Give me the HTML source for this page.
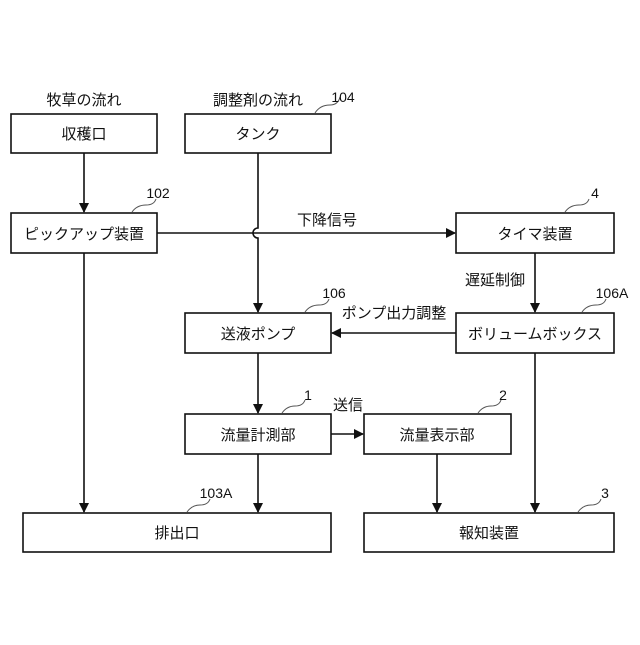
<!DOCTYPE html>
<html><head><meta charset="utf-8"><style>
html,body{margin:0;padding:0;background:#fff;}
svg text{font-family:"Liberation Sans","Noto Sans CJK JP",sans-serif;fill:#111;}
</style></head><body>
<svg width="640" height="640" viewBox="0 0 640 640" xmlns="http://www.w3.org/2000/svg">
<defs><marker id="a" markerWidth="10" markerHeight="10" refX="9" refY="5" orient="auto" markerUnits="userSpaceOnUse"><path d="M0,0 L10,5 L0,10 Z" fill="#111"/></marker></defs>
<g fill="#fff" stroke="#111" stroke-width="1.6">
<rect x="11" y="114" width="146" height="39"/>
<rect x="185" y="114" width="146" height="39"/>
<rect x="11" y="213" width="146" height="40"/>
<rect x="456" y="213" width="158" height="40"/>
<rect x="185" y="313" width="146" height="40"/>
<rect x="456" y="313" width="158" height="40"/>
<rect x="185" y="414" width="146" height="40"/>
<rect x="364" y="414" width="147" height="40"/>
<rect x="23" y="513" width="308" height="39"/>
<rect x="364" y="513" width="250" height="39"/>
</g>
<g stroke="#111" stroke-width="1.6" fill="none">
<line x1="84" y1="153" x2="84" y2="212" marker-end="url(#a)"/>
<line x1="84" y1="253" x2="84" y2="512" marker-end="url(#a)"/>
<path d="M258,153 V228 A5,5 0 0 0 258,238 V312" marker-end="url(#a)"/>
<line x1="157" y1="233" x2="455" y2="233" marker-end="url(#a)"/>
<line x1="535" y1="253" x2="535" y2="312" marker-end="url(#a)"/>
<line x1="456" y1="333" x2="332" y2="333" marker-end="url(#a)"/>
<line x1="258" y1="353" x2="258" y2="413" marker-end="url(#a)"/>
<line x1="258" y1="454" x2="258" y2="512" marker-end="url(#a)"/>
<line x1="331" y1="434" x2="363" y2="434" marker-end="url(#a)"/>
<line x1="437" y1="454" x2="437" y2="512" marker-end="url(#a)"/>
<line x1="535" y1="353" x2="535" y2="512" marker-end="url(#a)"/>
</g>
<g stroke="#555" stroke-width="1" fill="none">
<path d="M315,113 q5,-8 15,-8 q8,0 10,-8"/>
<path d="M132,212 q5,-7 14,-7 q8,0 10,-6"/>
<path d="M565,212 q5,-7 14,-7 q8,0 10,-6"/>
<path d="M305,312 q5,-7 14,-7 q8,0 10,-6"/>
<path d="M582,312 q5,-7 14,-7 q8,0 10,-6"/>
<path d="M282,413 q5,-7 13,-7 q8,0 10,-6"/>
<path d="M478,413 q5,-7 13,-7 q8,0 10,-6"/>
<path d="M187,512 q5,-7 13,-7 q8,0 10,-6"/>
<path d="M578,512 q5,-7 13,-7 q8,0 10,-6"/>
</g>
<g font-size="15" text-anchor="middle">
<text x="84" y="105">牧草の流れ</text>
<text x="258" y="105">調整剤の流れ</text>
<text x="84" y="139">収穫口</text>
<text x="258" y="139">タンク</text>
<text x="84" y="239">ピックアップ装置</text>
<text x="535" y="239">タイマ装置</text>
<text x="258" y="339">送液ポンプ</text>
<text x="535" y="339">ボリュームボックス</text>
<text x="258" y="440">流量計測部</text>
<text x="437" y="440">流量表示部</text>
<text x="177" y="538">排出口</text>
<text x="489" y="538">報知装置</text>
<text x="327" y="225">下降信号</text>
<text x="495" y="285">遅延制御</text>
<text x="394" y="318">ポンプ出力調整</text>
<text x="348" y="410">送信</text>
</g>
<g font-size="14" text-anchor="middle">
<text x="343" y="102">104</text>
<text x="158" y="198">102</text>
<text x="595" y="198">4</text>
<text x="334" y="298">106</text>
<text x="612" y="298">106A</text>
<text x="308" y="400">1</text>
<text x="503" y="400">2</text>
<text x="216" y="498">103A</text>
<text x="605" y="498">3</text>
</g>
</svg>
</body></html>
